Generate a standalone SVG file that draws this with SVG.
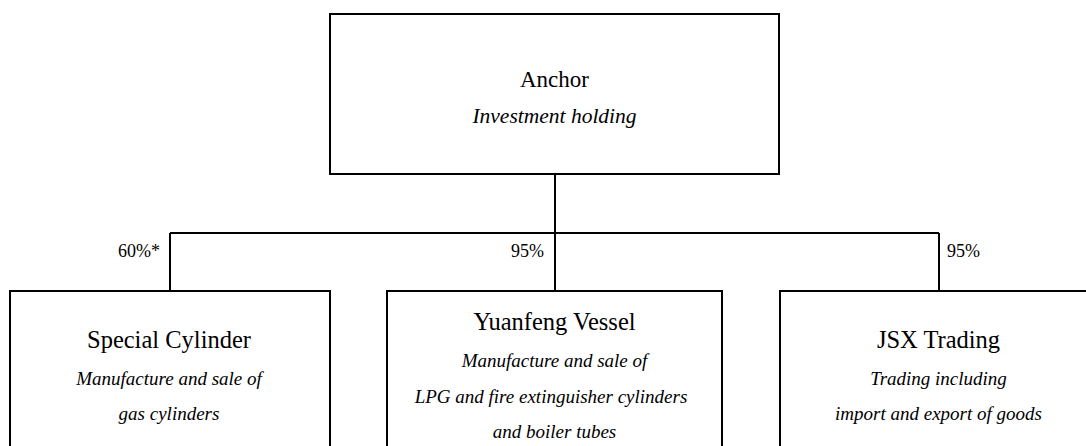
<svg xmlns="http://www.w3.org/2000/svg" width="1086" height="446" viewBox="0 0 1086 446">
<style>
.box{fill:#fff;stroke:#000;stroke-width:2}
.ln{stroke:#000;stroke-width:2;fill:none}
</style>
<rect width="1086" height="446" fill="#fff"/>
<g id="connectors">
<path class="ln" d="M555 174V233M170 233H939M170 233V291M555 233V291M939 233V291"/>
<text x="160" y="257" font-family="Liberation Serif" font-size="18" text-anchor="end">60%*</text>
<text x="544" y="257" font-family="Liberation Serif" font-size="18" text-anchor="end">95%</text>
<text x="947" y="257" font-family="Liberation Serif" font-size="18">95%</text>
</g>
<g id="anchor">
<rect class="box" x="330" y="14" width="449" height="160"/>
<text x="554.5" y="87" font-family="Liberation Serif" font-size="23" text-anchor="middle">Anchor</text>
<text x="554.5" y="123" font-family="Liberation Serif" font-size="21.5" font-style="italic" text-anchor="middle">Investment holding</text>
</g>
<g id="special-cylinder">
<rect class="box" x="10" y="291" width="320" height="170"/>
<text x="169" y="348" font-family="Liberation Serif" font-size="24.5" text-anchor="middle">Special Cylinder</text>
<text x="169" y="385" font-family="Liberation Serif" font-size="19" font-style="italic" text-anchor="middle">Manufacture and sale of</text>
<text x="169" y="420" font-family="Liberation Serif" font-size="19" font-style="italic" text-anchor="middle">gas cylinders</text>
</g>
<g id="yuanfeng-vessel">
<rect class="box" x="387" y="291" width="335" height="170"/>
<text x="554.5" y="330" font-family="Liberation Serif" font-size="24.5" text-anchor="middle">Yuanfeng Vessel</text>
<text x="554.5" y="367" font-family="Liberation Serif" font-size="19" font-style="italic" text-anchor="middle">Manufacture and sale of</text>
<text x="551" y="403" font-family="Liberation Serif" font-size="19" font-style="italic" text-anchor="middle">LPG and fire extinguisher cylinders</text>
<text x="554.5" y="438" font-family="Liberation Serif" font-size="19" font-style="italic" text-anchor="middle">and boiler tubes</text>
</g>
<g id="jsx-trading">
<rect class="box" x="780" y="291" width="318" height="170"/>
<text x="938.5" y="348" font-family="Liberation Serif" font-size="24.5" text-anchor="middle">JSX Trading</text>
<text x="938.5" y="385" font-family="Liberation Serif" font-size="19" font-style="italic" text-anchor="middle">Trading including</text>
<text x="938.5" y="420" font-family="Liberation Serif" font-size="19" font-style="italic" text-anchor="middle">import and export of goods</text>
</g>
</svg>
